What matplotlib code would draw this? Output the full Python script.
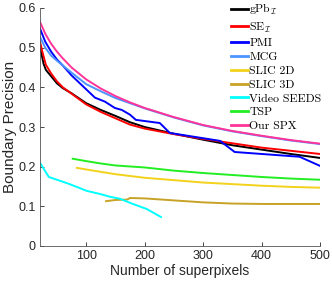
import matplotlib
matplotlib.use("Agg")
import matplotlib.pyplot as plt

plt.rcParams['mathtext.fontset'] = 'cm'
plt.rcParams['font.family'] = ['Liberation Sans', 'DejaVu Sans']

# ---- data ----
x_gpb = [21, 27, 31, 40, 50, 60, 75, 100, 125, 150, 175, 200, 250, 300, 350, 400, 450, 500]
y_gpb = [0.503, 0.46, 0.444, 0.428, 0.41, 0.398, 0.385, 0.36, 0.343, 0.328, 0.312, 0.300, 0.283, 0.268, 0.254, 0.243, 0.232, 0.222]

x_se = [21, 25, 31, 40, 50, 60, 75, 100, 125, 150, 175, 200, 250, 300, 350, 400, 450, 500]
y_se = [0.515, 0.49, 0.457, 0.435, 0.415, 0.40, 0.384, 0.357, 0.338, 0.322, 0.306, 0.296, 0.282, 0.270, 0.259, 0.248, 0.240, 0.232]

x_pmi = [21, 30, 40, 50, 60, 75, 100, 115, 132, 149, 161, 175, 185, 226, 243, 329, 354, 465, 500]
y_pmi = [0.548, 0.515, 0.49, 0.47, 0.455, 0.43, 0.395, 0.374, 0.364, 0.348, 0.343, 0.331, 0.318, 0.310, 0.285, 0.265, 0.237, 0.225, 0.202]

x_mcg = [21, 30, 40, 50, 60, 75, 100, 125, 150, 175, 200, 250, 300, 350, 400, 450, 500]
y_mcg = [0.527, 0.50, 0.48, 0.467, 0.455, 0.437, 0.408, 0.39, 0.373, 0.36, 0.347, 0.324, 0.304, 0.289, 0.277, 0.266, 0.257]

x_slic2d = [84, 100, 125, 150, 200, 250, 300, 350, 400, 450, 500]
y_slic2d = [0.197, 0.193, 0.187, 0.181, 0.172, 0.166, 0.160, 0.156, 0.152, 0.149, 0.147]

x_slic3d = [134, 150, 170, 175, 200, 250, 300, 350, 400, 500]
y_slic3d = [0.113, 0.116, 0.117, 0.121, 0.120, 0.115, 0.110, 0.107, 0.106, 0.106]

x_seeds = [21, 36, 60, 70, 101, 124, 141, 158, 180, 204, 228]
y_seeds = [0.21, 0.174, 0.162, 0.157, 0.139, 0.131, 0.124, 0.119, 0.106, 0.093, 0.073]

x_tsp = [77, 100, 125, 150, 200, 250, 300, 350, 400, 450, 500]
y_tsp = [0.22, 0.214, 0.208, 0.203, 0.198, 0.19, 0.184, 0.179, 0.174, 0.17, 0.167]

x_spx = [21, 30, 40, 50, 60, 75, 100, 125, 150, 175, 200, 250, 300, 350, 400, 450, 500]
y_spx = [0.565, 0.535, 0.51, 0.49, 0.473, 0.45, 0.42, 0.397, 0.378, 0.362, 0.348, 0.325, 0.305, 0.29, 0.278, 0.267, 0.258]

labels = [r'gPb$_\mathcal{I}$', r'SE$_\mathcal{I}$', 'PMI', 'MCG', 'SLIC 2D', 'SLIC 3D',
          'Video SEEDS', 'TSP', 'Our SPX']
xticks = [100, 200, 300, 400, 500]
yticks = [0, 0.1, 0.2, 0.3, 0.4, 0.5, 0.6]

series = [(x_gpb, y_gpb, '#000000'), (x_se, y_se, '#ff0000'), (x_pmi, y_pmi, '#0000ff'),
          (x_mcg, y_mcg, '#4d94ff'), (x_slic2d, y_slic2d, '#f2d21a'), (x_slic3d, y_slic3d, '#c8a226'),
          (x_seeds, y_seeds, '#00ffff'), (x_tsp, y_tsp, '#22ee22'), (x_spx, y_spx, '#ff3399')]

fig = plt.figure(figsize=(3.32, 2.83), dpi=100)
ax = fig.add_axes([40/332, 37/283, 280/332, 238/283])

handles = []
for (xs, ys, c), lab in zip(series, labels):
    h, = ax.plot(xs, ys, color=c, lw=1.4, label=lab)
    handles.append(h)

ax.set_xlim(21, 500)
ax.set_ylim(0, 0.6)
ax.set_xticks(xticks)
ax.set_yticks(yticks)
ax.set_yticklabels(['0', '0.1', '0.2', '0.3', '0.4', '0.5', '0.6'])
ax.tick_params(direction='in', length=3, labelsize=9, colors='#262626', width=0.6, pad=3)
for s in ['top', 'right']:
    ax.spines[s].set_visible(False)
for s in ['left', 'bottom']:
    ax.spines[s].set_color('#555555')
    ax.spines[s].set_linewidth(0.6)
ax.set_xlabel('Number of superpixels', fontsize=10, color='#262626', labelpad=1)
ax.set_ylabel('Boundary Precision', fontsize=11, color='#262626', labelpad=1)

leg = fig.legend(handles=handles, loc='upper left', bbox_to_anchor=(231/332, 1 - 2/283),
                 frameon=False, prop={'family': 'cmr10', 'size': 8.5}, handlelength=1.45,
                 handletextpad=0.1, labelspacing=0.3, borderpad=0, borderaxespad=0)
for l in leg.get_lines():
    l.set_linewidth(2)

fig.savefig('out.png', dpi=100)
